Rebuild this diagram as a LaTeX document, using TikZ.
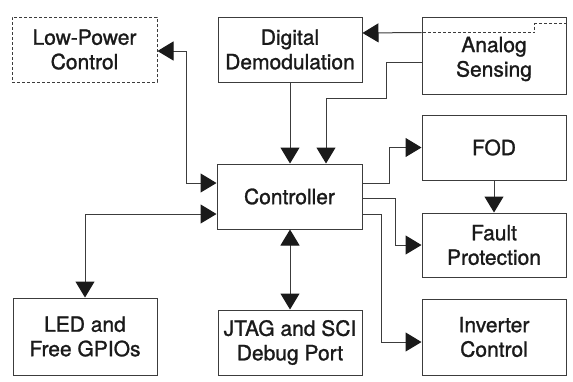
\documentclass[tikz,border=0pt]{standalone}
\usepackage{fontspec}
\setmainfont{TeX Gyre Heros}[BoldFont={TeX Gyre Heros},BoldFeatures={FakeBold=1.2}]
\usetikzlibrary{arrows.meta}
\definecolor{linegray}{HTML}{3C3C3C}
\definecolor{textcol}{HTML}{1A1A1A}
\begin{document}
\begin{tikzpicture}[x=1pt,y=-1pt,
  box/.style={draw=linegray, line width=1pt, inner sep=0pt, align=center,
    text=textcol, font=\fontsize{21}{24.5}\selectfont\bfseries},
  txt/.style={inner sep=0pt, align=center, text=textcol, font=\fontsize{21}{24.5}\selectfont\bfseries},
  dashbox/.style={box, dash pattern=on 3pt off 2pt},
  conn/.style={draw=linegray, line width=1pt},
  tip/.style={-{Triangle[length=16pt,width=19pt,color=textcol]}},
  tips/.style={{Triangle[length=16pt,width=19pt,color=textcol]}-{Triangle[length=16pt,width=19pt,color=textcol]}}
]
\useasboundingbox (0,0) rectangle (573,381);
\fill[white] (0,0) rectangle (573,381);

\node[dashbox, minimum width=145pt, minimum height=65pt] (lp) at (84.5,49.5) {Low-Power\\Control};
\node[box, minimum width=144pt, minimum height=65pt] (dd) at (290,49.5) {Digital\\Demodulation};
\node[box, minimum width=144pt, minimum height=77pt] (as) at (494,55.5) {};
\node[txt] (astext) at ([yshift=-3.5pt]as.center) {Analog\\Sensing};
\node[box, minimum width=145pt, minimum height=65pt] (ctrl) at (289.5,196.5) {Controller};
\node[box, minimum width=144pt, minimum height=65pt] (fod) at (494,147.5) {FOD};
\node[box, minimum width=144pt, minimum height=64pt] (fp) at (494,245) {Fault\\Protection};
\node[box, minimum width=144pt, minimum height=77pt] (led) at (85,336.5) {LED and\\Free GPIOs};
\node[box, minimum width=144pt, minimum height=65pt] (jtag) at (290,342.5) {JTAG and SCI\\Debug Port};
\node[box, minimum width=144pt, minimum height=76pt] (inv) at (494,337) {Inverter\\Control};

% Analog sensing dashed tab and arrow to digital demodulation
\draw[conn, dash pattern=on 3pt off 2pt] ([yshift=-7pt]as.north east) -- ++(-32,0) -- ++(0,9) -- ([yshift=-16pt]as.north west);
\draw[conn, tip] ([yshift=-16pt]as.north west) -- ([yshift=16.5pt]dd.east);

% Analog sensing to controller
\draw[conn, tip] ([yshift=-6.5pt]as.west) -| (386,98) -| ([xshift=36.5pt]ctrl.north);

% Digital demodulation to controller
\draw[conn, tip] (dd.south) -- (dd.south |- ctrl.north);

% Low-power control <-> controller
\draw[conn, tips] ([yshift=-1.5pt]lp.east) -- ++(29,0) |- ([yshift=13.5pt]ctrl.west);

% LED <-> controller
\draw[conn, tips] (led.north) |- ([yshift=-17.5pt]ctrl.west);

% JTAG <-> controller
\draw[conn, tips] (jtag.north) -- (jtag.north |- ctrl.south);

% Controller to right column
\draw[conn, tip] ([yshift=13.5pt]ctrl.east) -- ++(27,0) |- (fod.west);
\draw[conn, tip] ([yshift=-1.5pt]ctrl.east) -- ++(33,0) |- (fp.west);
\draw[conn, tip] ([yshift=-17.5pt]ctrl.east) -- ++(19,0) |- ([yshift=-5pt]inv.west);

% FOD to fault protection
\draw[conn, tip] (fod.south) -- (fp.north);
\end{tikzpicture}
\end{document}
